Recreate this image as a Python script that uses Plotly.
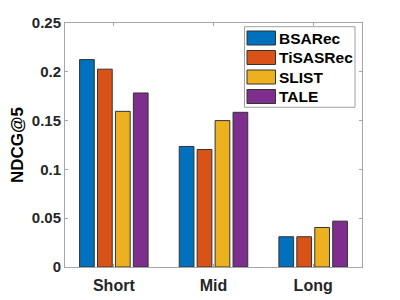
import plotly.graph_objects as go

categories = ["Short", "Mid", "Long"]
series_names = ["BSARec", "TiSASRec", "SLIST", "TALE"]
bsarec = [0.2125, 0.1235, 0.031]
tisasrec = [0.2027, 0.1204, 0.031]
slist = [0.1595, 0.150, 0.0405]
tale = [0.1783, 0.1585, 0.047]
y_ticks = [0, 0.05, 0.1, 0.15, 0.2, 0.25]
y_tick_labels = ["0", "0.05", "0.1", "0.15", "0.2", "0.25"]

colors = ["#0072BD", "#D95319", "#EDB120", "#7E2F8E"]
values = [bsarec, tisasrec, slist, tale]
FONT = "Liberation Sans, Arial, sans-serif"

OFF = 8  # page body margin
W, H = 400 - OFF, 300 - OFF
# plot area in window pixels: x 65..362, y 23..267
L, T = 65 - OFF, 23 - OFF
R, B = W - (362 - OFF), H - (267 - OFF)
PW, PH = 362 - 65, 267 - 23

fig = go.Figure()
for name, vals, c in zip(series_names, values, colors):
    fig.add_trace(go.Bar(
        x=categories, y=vals, name=name,
        marker=dict(color=c, line=dict(color="#333333", width=1)),
        showlegend=False,
    ))

# custom legend (MATLAB style), window pixel positions converted to paper coords
def px(x):
    return (x - 65) / PW
def py(y):
    return 1 - (y - 23) / PH

pitch = 19.5
shapes = [dict(type="rect", xref="paper", yref="paper",
               x0=px(244.5), x1=px(355), y0=py(26.7), y1=py(107.3),
               line=dict(color="#a0a0a0", width=1), fillcolor="white", layer="above")]
annotations = []
for i, (name, c) in enumerate(zip(series_names, colors)):
    cy = 38 + i * pitch
    shapes.append(dict(type="rect", xref="paper", yref="paper",
                       x0=px(247), x1=px(275.5), y0=py(cy + 7), y1=py(cy - 7),
                       line=dict(color="#333333", width=1), fillcolor=c, layer="above"))
    annotations.append(dict(xref="paper", yref="paper", x=px(276.5), y=py(cy),
                            text="<b>%s</b>" % name, showarrow=False,
                            xanchor="left", yanchor="middle",
                            font=dict(family=FONT, size=15.5, color="black")))

fig.update_layout(
    width=W, height=H,
    margin=dict(l=L, r=R, t=T, b=B, autoexpand=False),
    paper_bgcolor="white", plot_bgcolor="white",
    barmode="group", bargap=0.28, bargroupgap=0.18,
    shapes=shapes, annotations=annotations,
    font=dict(family=FONT, size=16, color="#262626"),
)
fig.update_xaxes(
    range=[-0.49, 2.49], showline=True, linecolor="#a6a6a6", linewidth=1, mirror="ticks",
    ticks="inside", ticklen=3, tickcolor="#a6a6a6", showgrid=False, automargin=False,
    tickfont=dict(family=FONT, size=16, color="#262626"), ticklabelstandoff=4,
    tickprefix="<b>", ticksuffix="</b>", zeroline=False,
)
fig.update_yaxes(
    range=[0, 0.25], tickvals=y_ticks, ticktext=["<b>%s</b>" % t for t in y_tick_labels],
    showline=True, linecolor="#a6a6a6", linewidth=1, mirror="ticks", automargin=False,
    ticks="inside", ticklen=3, tickcolor="#a6a6a6", showgrid=False, zeroline=False,
    tickfont=dict(family=FONT, size=15, color="#262626"),
    title=dict(text="<b>NDCG@5</b>", font=dict(family=FONT, size=17, color="black"), standoff=4),
)
fig.write_html("out.html")
